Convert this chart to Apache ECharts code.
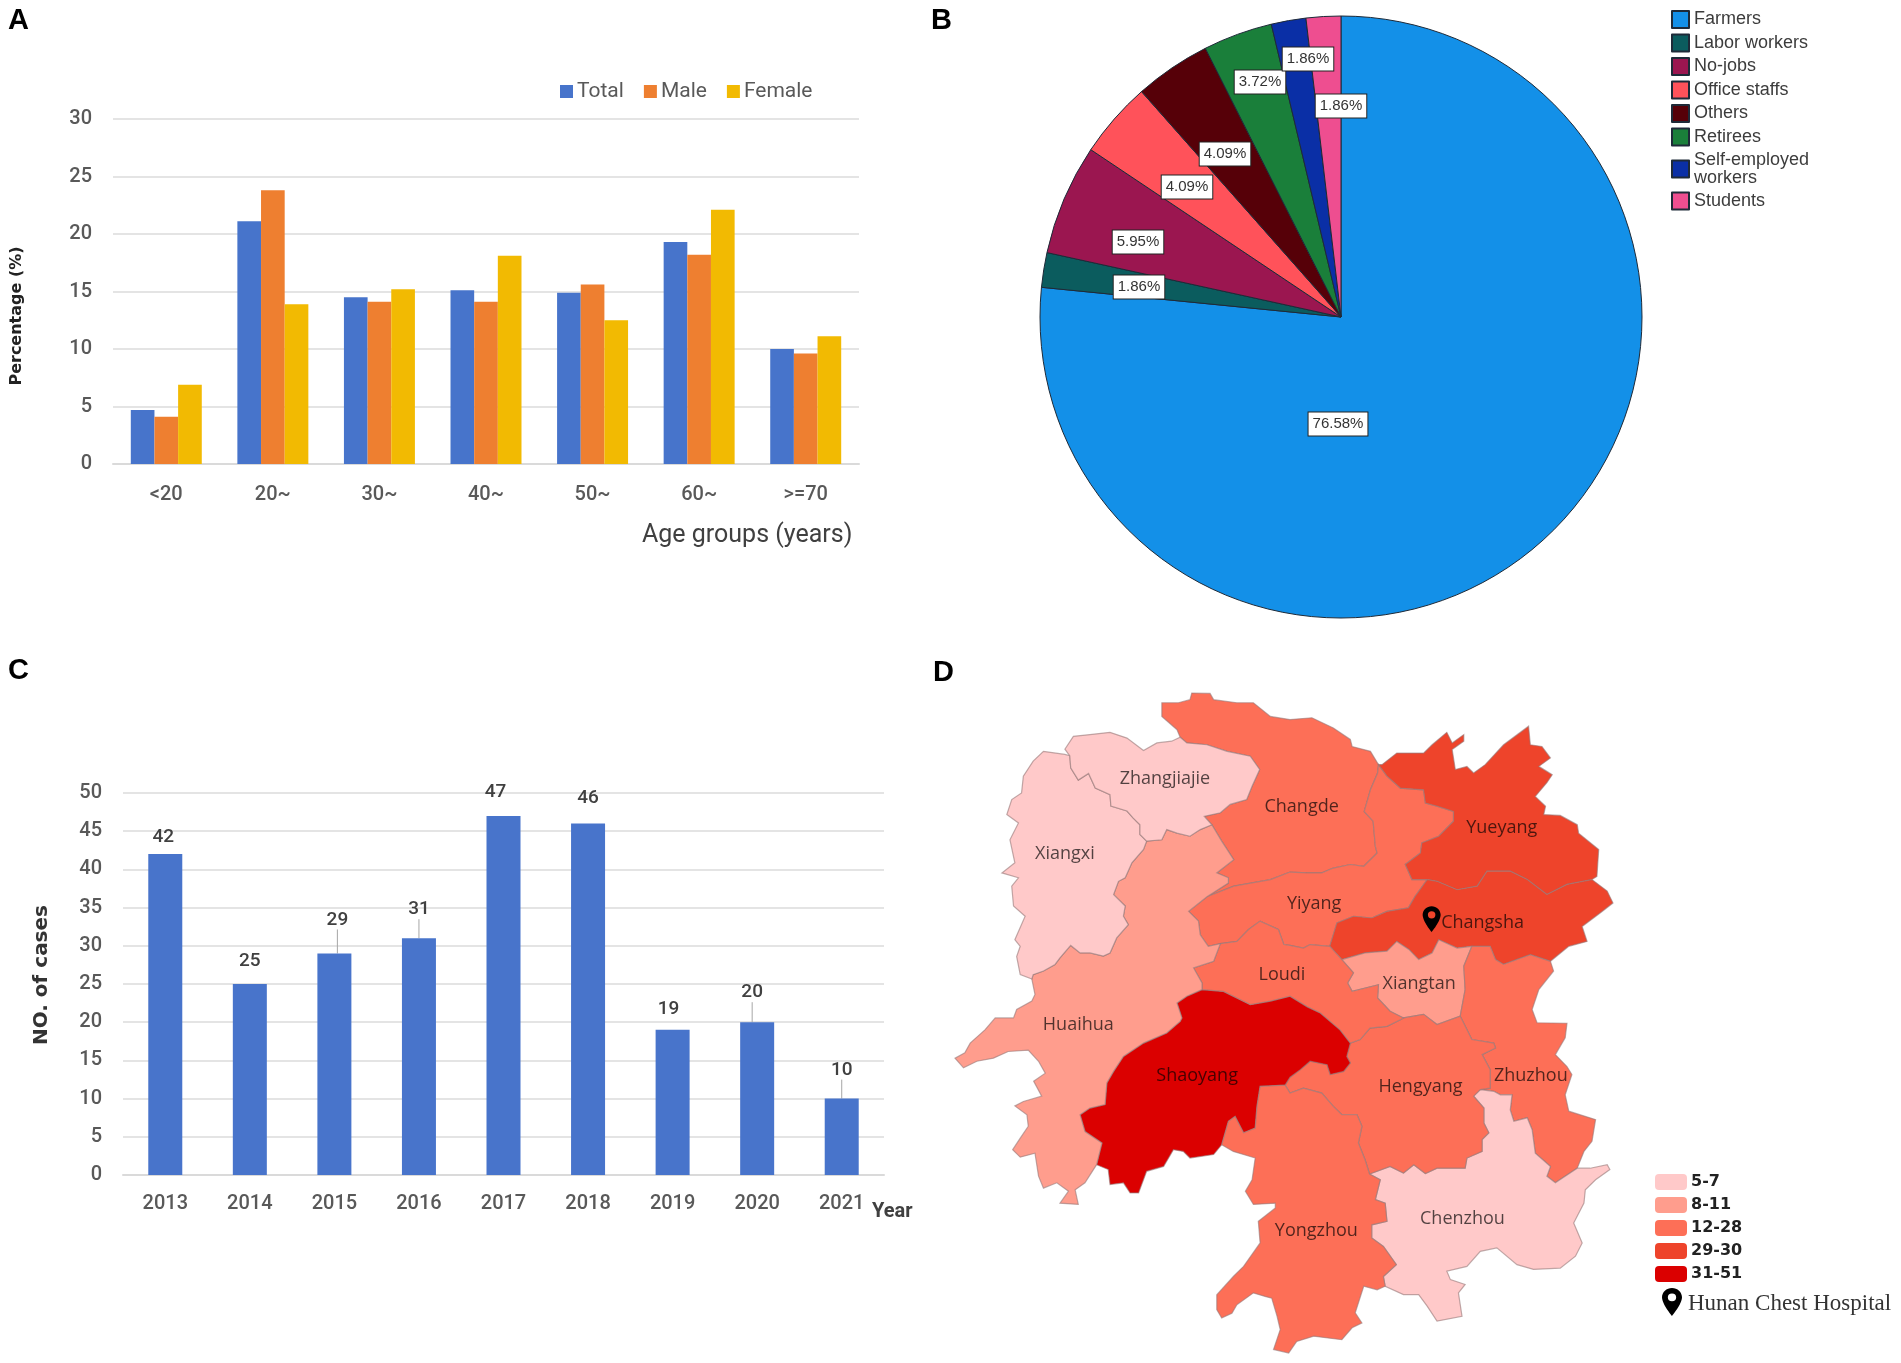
<!DOCTYPE html>
<html>
<head>
<meta charset="utf-8">
<style>
html, body { margin: 0; padding: 0; background: #fff; }
#cn { width: 1901px; height: 1363px; }
</style>
<script src="https://cdn.jsdelivr.net/npm/echarts@6/dist/echarts.min.js"></script>
</head>
<body>
<div id="cn"></div>
<script>
'use strict';

// panel A
const ageGroups = ['<20', '20~', '30~', '40~', '50~', '60~', '>=70'];
const ageTotal = [4.7, 21.1, 14.5, 15.1, 14.9, 19.3, 10.0];
const ageMale = [4.1, 23.8, 14.1, 14.1, 15.6, 18.2, 9.6];
const ageFemale = [6.9, 13.9, 15.2, 18.1, 12.5, 22.1, 11.1];

// panel B
const jobNames = ['Farmers', 'Labor workers', 'No-jobs', 'Office staffs', 'Others', 'Retirees', 'Self-employed\nworkers', 'Students'];
const jobShares = [76.58, 1.86, 5.95, 4.09, 4.09, 3.72, 1.86, 1.86];
const jobColors = ['#1390E8', '#0B5C5E', '#9B1650', '#FF525A', '#560008', '#1A7F3A', '#0A2FA6', '#EE4E90'];
const jobLabelX = [1338, 1139, 1138, 1187, 1225, 1260, 1308, 1341];
const jobLabelY = [424, 287, 242, 187, 154, 82, 59, 106];

// panel C
const years = ['2013', '2014', '2015', '2016', '2017', '2018', '2019', '2020', '2021'];
const yearCases = [42, 25, 29, 31, 47, 46, 19, 20, 10];
const caseLabelDx = [-2, 0, 3, 0, -8, 0, -4, -5, 0];
const caseLabelDy = [-2, -8, -19, -14, -9, -11, -6, -15, -14];
const caseLeader = [false, false, true, true, false, false, false, true, true];

// panel D, borders in its own units, y going down.
// every border is kept once and the cities are put together from them below
const bZhangXiangxi = [[313, 195], [315, 222], [332, 250], [355, 235], [370, 268], [403, 283], [405, 309], [441, 320], [455, 336], [470, 351], [470, 373], [485, 388]];
const outerZhang = [[313, 195], [302, 180], [321, 151], [358, 147], [403, 142], [441, 155], [478, 183], [508, 166], [541, 162], [560, 153]];
const bZhangChangde = [[560, 153], [575, 166], [620, 170], [665, 185], [717, 196], [738, 226], [721, 264], [709, 294], [672, 305], [650, 324], [614, 332], [631, 351]];
const bZhangHuaihua = [[631, 351], [605, 362], [582, 377], [553, 370], [530, 362], [519, 385], [485, 388]];
const bXiangxiHuaihua = [[485, 388], [478, 407], [452, 437], [437, 471], [422, 479], [411, 509], [437, 535], [433, 558], [444, 577], [418, 607], [403, 641], [388, 648], [358, 641], [336, 641], [315, 624], [291, 652], [280, 667], [254, 682], [231, 690], [228, 700]];
const outerXiangxi = [[228, 700], [202, 690], [194, 649], [202, 626], [190, 611], [213, 558], [187, 535], [183, 490], [198, 471], [161, 460], [190, 437], [179, 385], [198, 347], [172, 328], [183, 294], [205, 279], [209, 241], [231, 207], [254, 185], [302, 192], [313, 195]];
const outerHuaihua = [[228, 700], [235, 735], [228, 750], [194, 769], [187, 788], [146, 788], [123, 815], [90, 845], [78, 867], [56, 879], [75, 901], [105, 886], [142, 879], [175, 864], [220, 861], [243, 886], [258, 913], [232, 931], [250, 965], [209, 977], [190, 987], [217, 1007], [220, 1033], [202, 1060], [185, 1086], [202, 1103], [235, 1094], [243, 1146], [254, 1173], [284, 1161], [310, 1180], [291, 1207], [332, 1210], [325, 1177], [347, 1161], [373, 1120]];
const bHuaihuaShaoyang = [[373, 1120], [385, 1071], [347, 1045], [336, 1007], [358, 992], [392, 984], [396, 935], [411, 909], [433, 875], [478, 845], [530, 822], [560, 796], [564, 788], [553, 754], [575, 739], [609, 724]];
const bHuaihuaLoudi = [[609, 724], [609, 709], [590, 675], [635, 660], [650, 620]];
const bHuaihuaYiyang = [[650, 620], [623, 626], [605, 600], [601, 569], [579, 547], [620, 514]];
const bHuaihuaChangde = [[620, 514], [668, 483], [668, 471], [642, 460], [680, 430], [653, 388], [631, 351]];
const outerChangde = [[560, 153], [553, 136], [519, 106], [519, 75], [556, 75], [582, 68], [586, 53], [627, 54], [635, 68], [687, 75], [724, 75], [762, 106], [806, 113], [855, 109], [903, 132], [941, 158], [945, 174], [986, 185], [1004, 215]];
const bChangdeYiyang = [[1004, 215], [1002, 234], [986, 272], [972, 321], [992, 343], [997, 400], [1001, 415], [971, 445], [941, 441], [903, 449], [877, 460], [844, 460], [806, 458], [762, 475], [680, 490], [620, 514]];
const bYueyangYiyang = [[1004, 215], [1023, 241], [1053, 268], [1105, 272], [1109, 302], [1135, 309], [1172, 321], [1172, 343], [1139, 377], [1101, 392], [1098, 415], [1064, 441], [1079, 475], [1113, 475]];
const outerYueyang = [[1004, 215], [1012, 215], [1045, 189], [1105, 189], [1124, 170], [1157, 142], [1169, 166], [1195, 147], [1195, 162], [1169, 181], [1176, 226], [1202, 219], [1217, 234], [1243, 215], [1284, 170], [1340, 128], [1344, 170], [1370, 174], [1389, 200], [1363, 219], [1393, 238], [1381, 256], [1355, 287], [1378, 309], [1374, 328], [1411, 330], [1449, 351], [1452, 370], [1497, 407], [1493, 468], [1482, 475]];
const bYueyangChangsha = [[1113, 475], [1135, 479], [1180, 498], [1225, 490], [1247, 456], [1299, 456], [1337, 475], [1381, 509], [1426, 486], [1482, 475]];
const outerChangsha = [[1482, 475], [1516, 501], [1529, 528], [1501, 550], [1460, 581], [1471, 615], [1430, 626], [1389, 660]];
const bChangshaZhuzhou = [[1389, 660], [1344, 645], [1284, 667], [1266, 656], [1254, 626], [1232, 626], [1213, 626]];
const bChangshaXiangtan = [[1213, 626], [1180, 630], [1139, 611], [1124, 641], [1094, 656], [1072, 633], [1045, 615], [1023, 637], [974, 641], [922, 656]];
const bChangshaYiyang = [[1113, 475], [1086, 513], [1071, 539], [1023, 547], [989, 562], [948, 558], [911, 573], [895, 626]];
const bChangshaLoudi = [[895, 626], [922, 656]];
const bYiyangLoudi = [[895, 626], [851, 622], [836, 630], [806, 624], [792, 622], [780, 588], [739, 569], [713, 588], [687, 615], [650, 620]];
const bLoudiXiangtan = [[922, 656], [948, 686], [935, 709], [945, 728], [1004, 713], [1002, 743], [1030, 773], [1060, 788]];
const bXiangtanHengyang = [[1060, 788], [1105, 780], [1135, 803], [1187, 784]];
const bXiangtanZhuzhou = [[1187, 784], [1198, 724], [1195, 671], [1213, 626]];
const bLoudiHengyang = [[1060, 788], [1053, 792], [1023, 807], [985, 811], [963, 837], [941, 845]];
const bLoudiShaoyang = [[941, 845], [918, 815], [874, 777], [845, 763], [806, 739], [762, 750], [717, 758], [657, 728], [609, 724]];
const bShaoyangHengyang = [[941, 845], [933, 875], [941, 890], [926, 909], [896, 916], [889, 894], [851, 886], [829, 905], [806, 922], [795, 940]];
const bHengyangYongzhou = [[795, 940], [806, 958], [836, 947], [877, 958], [903, 988], [922, 1007], [956, 1007], [967, 1033], [959, 1071], [974, 1109], [984, 1141]];
const bShaoyangYongzhou = [[795, 940], [739, 943], [732, 988], [728, 1037], [702, 1048], [683, 1011], [668, 1022], [653, 1075]];
const outerShaoyang = [[653, 1075], [635, 1097], [582, 1105], [567, 1090], [545, 1086], [523, 1124], [485, 1135], [467, 1184], [448, 1184], [433, 1161], [403, 1165], [399, 1131], [373, 1120]];
const outerYongzhou = [[653, 1075], [679, 1090], [728, 1105], [721, 1154], [706, 1180], [724, 1210], [773, 1207], [773, 1218], [735, 1248], [739, 1297], [702, 1350], [679, 1373], [642, 1414], [642, 1448], [653, 1467], [676, 1456], [687, 1437], [724, 1410], [750, 1418], [765, 1422], [777, 1463], [784, 1493], [769, 1538], [803, 1546], [821, 1520], [859, 1508], [922, 1516], [945, 1489], [967, 1478], [952, 1455], [971, 1395], [1001, 1403], [1019, 1395]];
const bYongzhouChenzhou = [[1019, 1395], [1015, 1373], [1044, 1346], [1015, 1305], [989, 1286], [989, 1256], [1023, 1248], [1019, 1207], [997, 1199], [1008, 1154], [984, 1141]];
const bHengyangChenzhou = [[984, 1141], [1030, 1124], [1060, 1139], [1083, 1120], [1109, 1140], [1135, 1128], [1198, 1128], [1202, 1105], [1236, 1090], [1236, 1063], [1251, 1048], [1240, 1026], [1240, 992], [1217, 965], [1232, 950]];
const bHengyangZhuzhou = [[1187, 784], [1191, 792], [1213, 837], [1262, 845], [1266, 856], [1236, 871], [1254, 905], [1254, 947], [1232, 950]];
const outerZhuzhou = [[1389, 660], [1396, 682], [1363, 724], [1348, 769], [1359, 799], [1426, 800], [1422, 833], [1400, 871], [1426, 898], [1437, 916], [1422, 962], [1430, 999], [1490, 1018], [1482, 1067], [1464, 1090], [1449, 1128]];
const bZhuzhouChenzhou = [[1449, 1128], [1400, 1161], [1381, 1146], [1389, 1124], [1355, 1094], [1348, 1041], [1337, 1014], [1307, 1022], [1299, 996], [1303, 962], [1277, 962], [1262, 954], [1232, 950]];
const outerChenzhou = [[1449, 1128], [1478, 1128], [1516, 1120], [1522, 1131], [1490, 1154], [1467, 1177], [1464, 1207], [1441, 1252], [1460, 1297], [1445, 1327], [1411, 1354], [1351, 1357], [1314, 1346], [1269, 1308], [1232, 1316], [1202, 1350], [1157, 1361], [1165, 1380], [1198, 1391], [1183, 1410], [1191, 1463], [1135, 1474], [1113, 1440], [1094, 1414], [1060, 1414], [1019, 1395]];

const rev = border => border.slice().reverse();

const cityNames = ['Changde', 'Yiyang', 'Yueyang', 'Changsha', 'Xiangtan', 'Zhuzhou', 'Chenzhou', 'Hengyang', 'Shaoyang', 'Yongzhou', 'Loudi', 'Huaihua', 'Xiangxi', 'Zhangjiajie'];
const cityBorders = [
    [outerChangde, bChangdeYiyang, bHuaihuaChangde, rev(bZhangChangde)],
    [bYueyangYiyang, bChangshaYiyang, bYiyangLoudi, bHuaihuaYiyang, rev(bChangdeYiyang)],
    [outerYueyang, rev(bYueyangChangsha), rev(bYueyangYiyang)],
    [bYueyangChangsha, outerChangsha, bChangshaZhuzhou, bChangshaXiangtan, rev(bChangshaLoudi), rev(bChangshaYiyang)],
    [rev(bChangshaXiangtan), rev(bXiangtanZhuzhou), rev(bXiangtanHengyang), rev(bLoudiXiangtan)],
    [outerZhuzhou, bZhuzhouChenzhou, rev(bHengyangZhuzhou), bXiangtanZhuzhou, rev(bChangshaZhuzhou)],
    [rev(bZhuzhouChenzhou), outerChenzhou, bYongzhouChenzhou, bHengyangChenzhou],
    [rev(bLoudiHengyang), bXiangtanHengyang, bHengyangZhuzhou, rev(bHengyangChenzhou), rev(bHengyangYongzhou), rev(bShaoyangHengyang)],
    [rev(bLoudiShaoyang), bShaoyangHengyang, bShaoyangYongzhou, outerShaoyang, bHuaihuaShaoyang],
    [rev(bShaoyangYongzhou), bHengyangYongzhou, rev(bYongzhouChenzhou), rev(outerYongzhou)],
    [rev(bYiyangLoudi), bChangshaLoudi, bLoudiXiangtan, bLoudiHengyang, bLoudiShaoyang, bHuaihuaLoudi],
    [rev(bZhangHuaihua), rev(bHuaihuaChangde), rev(bHuaihuaYiyang), rev(bHuaihuaLoudi), rev(bHuaihuaShaoyang), rev(outerHuaihua), rev(bXiangxiHuaihua)],
    [bZhangXiangxi, bXiangxiHuaihua, outerXiangxi],
    [outerZhang, bZhangChangde, bZhangHuaihua, rev(bZhangXiangxi)]
];
const cityLabelAt = [[832, 310], [860, 530], [1280, 357], [1237, 572], [1095, 710], [1345, 920], [1192, 1243], [1098, 945], [598, 920], [865, 1270], [788, 690], [332, 803], [302, 417], [526, 248]];
const cityCases = [20, 16, 29, 30, 11, 14, 7, 25, 51, 12, 15, 9, 7, 6];
const caseBandMin = [5, 8, 12, 29, 31];
const caseBandMax = [7, 11, 28, 30, 51];
const caseBandColors = ['#FFC9C9', '#FF9D8D', '#FD6F57', '#EE442B', '#DB0000'];
const hospitalAt = [1123, 594];

const PIN = 'path://M12 0C5.4 0 0 5.4 0 12c0 9 12 24 12 24s12-15 12-24C24 5.4 18.6 0 12 0zm0 17a5 5 0 1 1 0-10 5 5 0 0 1 0 10z';
const FONT = 'Roboto';
const GREY = '#595959';

const cityRing = borders => {
    const ring = [].concat(...borders);
    return ring.map(p => [p[0], -p[1]]);
};

echarts.registerMap('hunan', {
    type: 'FeatureCollection',
    features: cityNames.map((name, i) => ({
        type: 'Feature',
        properties: { name: name, cp: [cityLabelAt[i][0], -cityLabelAt[i][1]] },
        geometry: { type: 'Polygon', coordinates: [cityRing(cityBorders[i])] }
    }))
});

const panelTitle = (text, left, top) => ({
    text: text,
    left: left,
    top: top,
    padding: 0,
    textStyle: { fontFamily: 'Liberation Sans', fontSize: 29, fontWeight: 'bold', color: '#000' }
});

const sideName = (text, x, y, fontSize, fill) => ({
    type: 'text',
    x: x,
    y: y,
    rotation: Math.PI / 2,
    style: {
        text: text,
        textAlign: 'center',
        textVerticalAlign: 'middle',
        font: 'bold ' + fontSize + 'px "DejaVu Sans"',
        fill: fill
    }
});

const axisText = { fontFamily: FONT, fontSize: 20, fontWeight: 500, color: GREY };
const gridLine = { show: true, lineStyle: { color: '#E4E4E4', width: 2 } };

const ageBar = (name, data, color) => ({
    name: name,
    type: 'bar',
    data: data,
    barWidth: '22.2%',
    barGap: '0%',
    itemStyle: { color: color }
});

const chart = echarts.init(document.getElementById('cn'), null, { renderer: 'canvas' });

chart.setOption({
    animation: false,
    backgroundColor: '#fff',
    title: [
        panelTitle('A', 8, 6),
        panelTitle('B', 931, 6),
        panelTitle('C', 8, 656),
        panelTitle('D', 933, 658),
        {
            text: 'Age groups (years)', left: 642, top: 523, padding: 0,
            textStyle: { fontFamily: FONT, fontSize: 25, fontWeight: 400, color: '#404040' }
        },
        {
            text: 'Year', left: 872, top: 1202, padding: 0,
            textStyle: { fontFamily: FONT, fontSize: 20, fontWeight: 'bold', color: '#404040' }
        },
        {
            text: 'Hunan Chest Hospital', left: 1688, top: 1292, padding: 0,
            textStyle: { fontFamily: 'Liberation Serif', fontSize: 23, fontWeight: 'normal', color: '#333' }
        }
    ],
    legend: [
        {
            data: ['Total', 'Male', 'Female'],
            left: 560, top: 81, padding: 0,
            itemWidth: 13, itemHeight: 13, itemGap: 20, icon: 'rect', selectedMode: false,
            textStyle: { fontFamily: FONT, fontSize: 21, color: GREY, padding: [0, 0, 0, -1] }
        },
        {
            data: jobNames,
            orient: 'vertical',
            left: 1671, top: 10, padding: 0,
            itemWidth: 17, itemHeight: 17, itemGap: 4.5, icon: 'rect', selectedMode: false,
            textStyle: { fontFamily: 'Liberation Sans', fontSize: 18, lineHeight: 18, color: '#3C3C3C' }
        }
    ],
    grid: [
        { left: 113, top: 119, width: 746, height: 345 },
        { left: 123, top: 793, width: 761, height: 382 }
    ],
    xAxis: [
        {
            gridIndex: 0, type: 'category', data: ageGroups,
            axisTick: { show: false }, axisLine: { lineStyle: { color: '#DADADA', width: 2 } },
            axisLabel: Object.assign({ margin: 21 }, axisText)
        },
        {
            gridIndex: 1, type: 'category', data: years,
            axisTick: { show: false }, axisLine: { lineStyle: { color: '#DADADA', width: 2 } },
            axisLabel: Object.assign({ margin: 19, interval: 0 }, axisText)
        }
    ],
    yAxis: [
        {
            gridIndex: 0, type: 'value', min: 0, max: 30, interval: 5,
            axisLine: { show: false }, axisTick: { show: false }, splitLine: gridLine,
            axisLabel: Object.assign({ margin: 21 }, axisText)
        },
        {
            gridIndex: 1, type: 'value', min: 0, max: 50, interval: 5,
            axisLine: { show: false }, axisTick: { show: false }, splitLine: gridLine,
            axisLabel: Object.assign({ margin: 21 }, axisText)
        }
    ],
    graphic: [
        sideName('Percentage (%)', 17, 316, 16, '#222'),
        sideName('NO. of cases', 42, 975, 20, '#333')
    ],
    visualMap: {
        type: 'piecewise',
        seriesIndex: 5,
        orient: 'vertical',
        inverse: true,
        left: 1655, top: 1174, padding: 0,
        itemWidth: 32, itemHeight: 16, itemGap: 7, textGap: 4,
        align: 'left',
        selectedMode: false,
        pieces: caseBandMin.map((min, i) => ({
            min: min, max: caseBandMax[i], label: min + '-' + caseBandMax[i], color: caseBandColors[i]
        })),
        textStyle: { fontFamily: 'DejaVu Sans', fontSize: 16, fontWeight: 'bold', color: '#222' }
    },
    series: [
        ageBar('Total', ageTotal, '#4774CB'),
        ageBar('Male', ageMale, '#EE7F30'),
        ageBar('Female', ageFemale, '#F2BA02'),
        {
            name: 'Jobs',
            type: 'pie',
            center: [1341, 317],
            radius: 301,
            startAngle: 90,
            clockwise: true,
            data: jobNames.map((name, i) => ({ name: name, value: jobShares[i], itemStyle: { color: jobColors[i] } })),
            itemStyle: { borderColor: '#1E2A38', borderWidth: 1 },
            label: {
                show: true,
                position: 'inside',
                formatter: p => p.value.toFixed(2) + '%',
                fontFamily: 'Liberation Sans',
                fontSize: 15,
                color: '#333',
                backgroundColor: '#fff',
                borderColor: '#222',
                borderWidth: 1,
                padding: [4, 4]
            },
            labelLine: { show: false },
            labelLayout: p => ({ x: jobLabelX[p.dataIndex], y: jobLabelY[p.dataIndex], align: 'center', verticalAlign: 'middle' })
        },
        {
            name: 'Cases',
            type: 'bar',
            xAxisIndex: 1,
            yAxisIndex: 1,
            barWidth: 34,
            data: yearCases.map((v, i) => ({ value: v, labelLine: { show: caseLeader[i] } })),
            itemStyle: { color: '#4874CB' },
            label: { show: true, position: 'top', fontFamily: FONT, fontSize: 19, fontWeight: 500, color: '#404040' },
            labelLine: { lineStyle: { color: '#A6A6A6', width: 1 } },
            labelLayout: p => ({ dx: caseLabelDx[p.dataIndex], dy: caseLabelDy[p.dataIndex] })
        },
        {
            name: 'Hunan',
            type: 'map',
            map: 'hunan',
            left: 955, top: 693, width: 658, height: 660,
            aspectScale: 1.01,
            roam: false,
            silent: true,
            showLegendSymbol: false,
            data: cityNames.map((name, i) => ({ name: name, value: cityCases[i] })),
            itemStyle: { borderColor: 'rgba(150,120,120,0.6)', borderWidth: 1.2 },
            label: { show: true, fontFamily: 'Open Sans', fontSize: 18, color: 'rgba(0,0,0,0.68)' },
            markPoint: {
                silent: true,
                symbol: PIN,
                symbolOffset: [0, '-50%'],
                itemStyle: { color: '#000' },
                label: { show: false },
                data: [
                    { coord: [hospitalAt[0], -hospitalAt[1]], symbolSize: [18, 26] },
                    { x: 1672, y: 1316, symbolSize: [20, 28] }
                ]
            }
        }
    ]
});
</script>
</body>
</html>
